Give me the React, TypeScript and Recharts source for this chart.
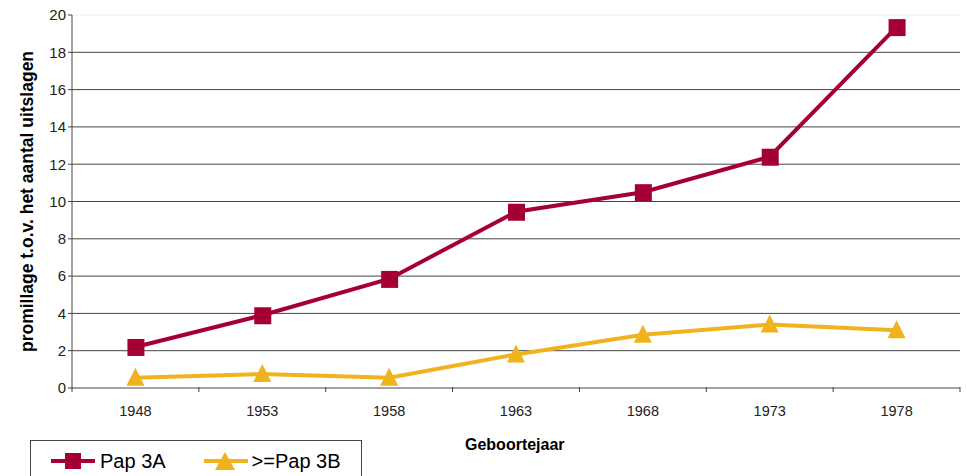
import React from 'react';
import { LineChart, Line, XAxis, YAxis, ReferenceLine, Label } from 'recharts';

const years = [1948, 1953, 1958, 1963, 1968, 1973, 1978];
const pap3A = [2.2, 3.9, 5.85, 9.45, 10.5, 12.4, 19.35];
const pap3B = [0.55, 0.75, 0.55, 1.8, 2.85, 3.4, 3.1];
const yTicks = [0, 2, 4, 6, 8, 10, 12, 14, 16, 18, 20];

const RED = '#A50034';
const YELLOW = '#F0B31E';

const data = years.map((year, i) => ({ year, a: pap3A[i], b: pap3B[i] }));

// ticks at the years (labels) and half way between them (tick marks only)
const bounds = [years[0] - 2.5, ...years.map((y) => y + 2.5)];
const xTicks = [...bounds, ...years].sort((p, q) => p - q);

const XTick = (props: any) => {
  const { x, y, payload } = props;
  if (years.includes(payload.value)) {
    return (
      <text x={x} y={y + 20} textAnchor="middle" fontSize={14.5} fill="#222" fontFamily="Liberation Sans, Arial">
        {payload.value}
      </text>
    );
  }
  return <line x1={x} x2={x} y1={y - 9} y2={y - 4} stroke="#444" />;
};

const Square = (props: any) => {
  const { cx, cy } = props;
  return <rect x={cx - 8} y={cy - 8} width={17} height={17} fill={RED} />;
};

const Triangle = (props: any) => {
  const { cx, cy } = props;
  return <polygon points={`${cx},${cy - 10} ${cx + 9},${cy + 8} ${cx - 9},${cy + 8}`} fill={YELLOW} />;
};

export default function App() {
  return (
    <div style={{ position: 'absolute', left: 0, top: 0, width: 967, height: 476, overflow: 'hidden', background: '#fff', fontFamily: 'Liberation Sans, Arial, sans-serif' }}>
      <LineChart width={967} height={476} data={data} margin={{ top: 15, right: 7, left: 32, bottom: 58 }}>
        {yTicks.slice(1).map((t) => (
          <ReferenceLine key={t} y={t} stroke={t === 20 ? '#eee' : '#444'} strokeWidth={1} />
        ))}
        <XAxis
          dataKey="year"
          type="number"
          domain={[bounds[0], bounds[bounds.length - 1]]}
          ticks={xTicks}
          interval={0}
          tick={<XTick />}
          tickLine={false}
          axisLine={{ stroke: '#444' }}
          height={30}
        />
        <YAxis
          domain={[0, 20]}
          ticks={yTicks}
          interval={0}
          width={40}
          tick={{ fontSize: 15, fill: '#222', fontFamily: 'Liberation Sans, Arial' }}
          tickLine={{ stroke: '#444' }}
          tickSize={4}
          axisLine={{ stroke: '#444' }}
        >
          <Label
            value="promillage t.o.v. het aantal uitslagen"
            angle={-90}
            position="center"
            dx={-25}
            dy={0}
            style={{ fontSize: 17.5, fontWeight: 'bold', fill: '#000', fontFamily: 'Liberation Sans, Arial' }}
          />
        </YAxis>
        <Line dataKey="a" stroke={RED} strokeWidth={4} dot={<Square />} activeDot={false} isAnimationActive={false} />
        <Line dataKey="b" stroke={YELLOW} strokeWidth={4} dot={<Triangle />} activeDot={false} isAnimationActive={false} />
      </LineChart>
      <div style={{ position: 'absolute', left: 465, top: 436, fontSize: 16, fontWeight: 'bold', color: '#000' }}>Geboortejaar</div>
      <div style={{ position: 'absolute', left: 30, top: 440, width: 332, height: 60, border: '1px solid #444', boxSizing: 'border-box', display: 'flex', alignItems: 'flex-start', paddingTop: 8, fontSize: 20, color: '#000' }}>
        <svg width={46} height={24} style={{ marginLeft: 19 }}>
          <line x1={1} x2={45} y1={12} y2={12} stroke={RED} strokeWidth={4} />
          <rect x={15} y={4} width={16} height={16} fill={RED} />
        </svg>
        <span style={{ marginLeft: 4, lineHeight: '24px' }}>Pap 3A</span>
        <svg width={46} height={24} style={{ marginLeft: 37 }}>
          <line x1={1} x2={45} y1={12} y2={12} stroke={YELLOW} strokeWidth={4} />
          <polygon points="22,3 32,21 12,21" fill={YELLOW} />
        </svg>
        <span style={{ marginLeft: 3, lineHeight: '24px' }}>&gt;=Pap 3B</span>
      </div>
    </div>
  );
}
